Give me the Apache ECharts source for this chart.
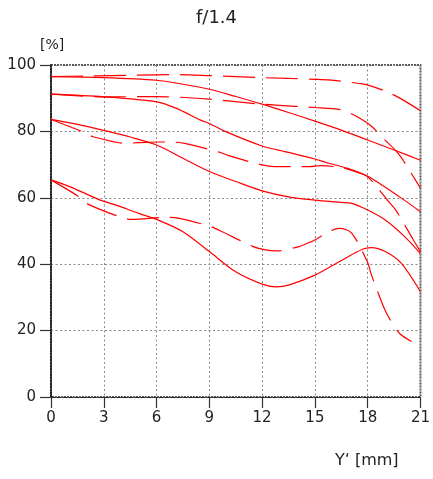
<!DOCTYPE html>
<html>
<head>
<meta charset="utf-8">
<script src="https://cdn.jsdelivr.net/npm/echarts@6/dist/echarts.min.js"></script>
<style>
html,body{margin:0;padding:0;background:#fff;}
#chart{width:433px;height:479px;}
</style>
</head>
<body>
<div id="chart"></div>
<script>
// Tick labels
var xTicks = [0, 3, 6, 9, 12, 15, 18, 21];
var yTicks = [0, 20, 40, 60, 80, 100];

// Solid curves
var s1x = [0, 3, 6, 7.5, 9, 10.5, 12, 13.5, 15, 16.5, 18, 19.5, 21];
var s1y = [96.5, 96.2, 95.4, 94.2, 92.7, 90.5, 88.2, 85.7, 83.1, 80.4, 77.4, 74.4, 71.3];

var s2x = [0, 3, 6, 7.1, 8.5, 9, 9.9, 12, 13.5, 15, 15.8, 16.9, 18, 19, 20, 21];
var s2y = [91.2, 90.4, 88.9, 87, 83.4, 82.4, 80, 75.6, 73.7, 71.7, 70.4, 68.8, 66.5, 63.2, 59.6, 55.8];

var s3x = [0, 1.5, 3, 4.5, 6, 7.5, 9, 10.5, 12, 13.5, 15, 16.5, 17.1, 18, 19, 20.1, 21];
var s3y = [83.6, 82.1, 80.3, 78.3, 75.9, 71.9, 67.9, 64.9, 62.1, 60.3, 59.3, 58.6, 58.3, 56.3, 53.3, 48.3, 43.2];

var s4x = [0, 1.1, 2.8, 3.7, 5, 6, 7.5, 9, 10.5, 12, 12.8, 13.5, 15, 16.4, 17.7, 18.2, 19, 19.9, 21];
var s4y = [65.4, 63.3, 59.3, 57.8, 55.3, 53.5, 49.8, 43.8, 37.7, 34, 33.2, 33.7, 36.7, 40.8, 44.5, 45, 43.8, 40.3, 31.7];

// Dashed curves
var d1x = [0, 2.2, 4.6, 7.2, 9, 12, 15, 15.8, 17.7, 18.3, 19.2, 20.1, 21];
var d1y = [96.5, 96.7, 96.9, 97.1, 96.8, 96.2, 95.7, 95.5, 94.3, 93.5, 91.7, 89.2, 86.2];

var d2x = [0, 3, 6, 9, 12, 15, 16.5, 17.3, 18.2, 19, 19.6, 20, 21];
var d2y = [91.2, 90.4, 90.5, 89.7, 88.2, 87.2, 86.5, 84.7, 81.6, 77.3, 74.2, 71.4, 62.9];

var d3x = [0, 1.8, 2.4, 4.3, 4.9, 6, 6.7, 7.6, 9.6, 10.1, 12, 12.7, 14.7, 15.3, 16.5, 17.3, 18, 19.2, 19.6, 20.6, 21];
var d3y = [83.6, 79.9, 78.4, 76.4, 76.6, 76.8, 76.8, 76.4, 73.7, 72.7, 69.9, 69.4, 69.4, 69.7, 69.1, 67.9, 66.3, 58.8, 56.3, 47.3, 43.8];

var d4x = [0, 1.6, 2.1, 4, 4.6, 6.5, 7.3, 9.1, 9.8, 11.5, 12.2, 12.8, 14.1, 14.8, 16.4, 17.1, 18, 18.2, 18.9, 19.2, 19.8, 20.5];
var d4y = [65.4, 60.3, 58.1, 54.1, 53.5, 54.1, 53.8, 51.3, 49.6, 45.3, 44.3, 44.0, 45.3, 46.8, 50.8, 49.3, 40.5, 37, 27.2, 24, 19.2, 16.7];

function pts(xs, ys) { return xs.map(function (x, i) { return [x, ys[i]]; }); }

var RED = '#ff0000';
var FONT = 'DejaVu Sans';

function mk(xs, ys, dashed) {
  return {
    type: 'line',
    data: pts(xs, ys),
    showSymbol: false,
    smooth: 0.3,
    silent: true,
    lineStyle: { color: RED, width: 1.2, type: dashed ? [32, 11] : 'solid' }
  };
}

var chart = echarts.init(document.getElementById('chart'), null, { renderer: 'canvas' });
chart.setOption({
  animation: false,
  backgroundColor: '#ffffff',
  grid: {
    left: 51, right: 11, top: 65, bottom: 82,
    show: true, borderColor: '#555', borderWidth: 2, borderType: [2, 1],
    backgroundColor: 'transparent'
  },
  xAxis: {
    type: 'value', min: xTicks[0], max: xTicks[xTicks.length - 1], interval: 3,
    axisLine: { show: true, onZero: false, lineStyle: { color: '#222', width: 1.2, type: [4, 2] } },
    axisTick: { show: true, length: 11, lineStyle: { color: '#333', width: 1.2 } },
    axisLabel: { fontSize: 15, color: '#222', fontFamily: FONT, margin: 14 },
    splitLine: { show: true, lineStyle: { color: '#8a8a8a', width: 1, type: [2, 2.5] } }
  },
  yAxis: {
    type: 'value', min: yTicks[0], max: yTicks[yTicks.length - 1], interval: 20,
    axisLine: { show: true, lineStyle: { color: '#111', width: 1.5 } },
    axisTick: { show: true, length: 11, lineStyle: { color: '#333', width: 1.2 } },
    axisLabel: { fontSize: 15, color: '#222', fontFamily: FONT, margin: 15 },
    splitLine: { show: true, lineStyle: { color: '#8a8a8a', width: 1, type: [2, 2.5] } }
  },
  graphic: [
    { type: 'text', left: 196, top: 9, style: { text: 'f/1.4', font: '18px "DejaVu Sans"', fill: '#222' } },
    { type: 'text', left: 40, top: 38, style: { text: '[%]', font: '14px "DejaVu Sans"', fill: '#222' } },
    { type: 'text', left: 335, top: 453, style: { text: 'Y\u2018 [mm]', font: '16px "DejaVu Sans"', fill: '#222' } }
  ],
  series: [
    mk(s1x, s1y, false), mk(s2x, s2y, false), mk(s3x, s3y, false), mk(s4x, s4y, false),
    mk(d1x, d1y, true), mk(d2x, d2y, true), mk(d3x, d3y, true), mk(d4x, d4y, true)
  ]
});
</script>
</body>
</html>
